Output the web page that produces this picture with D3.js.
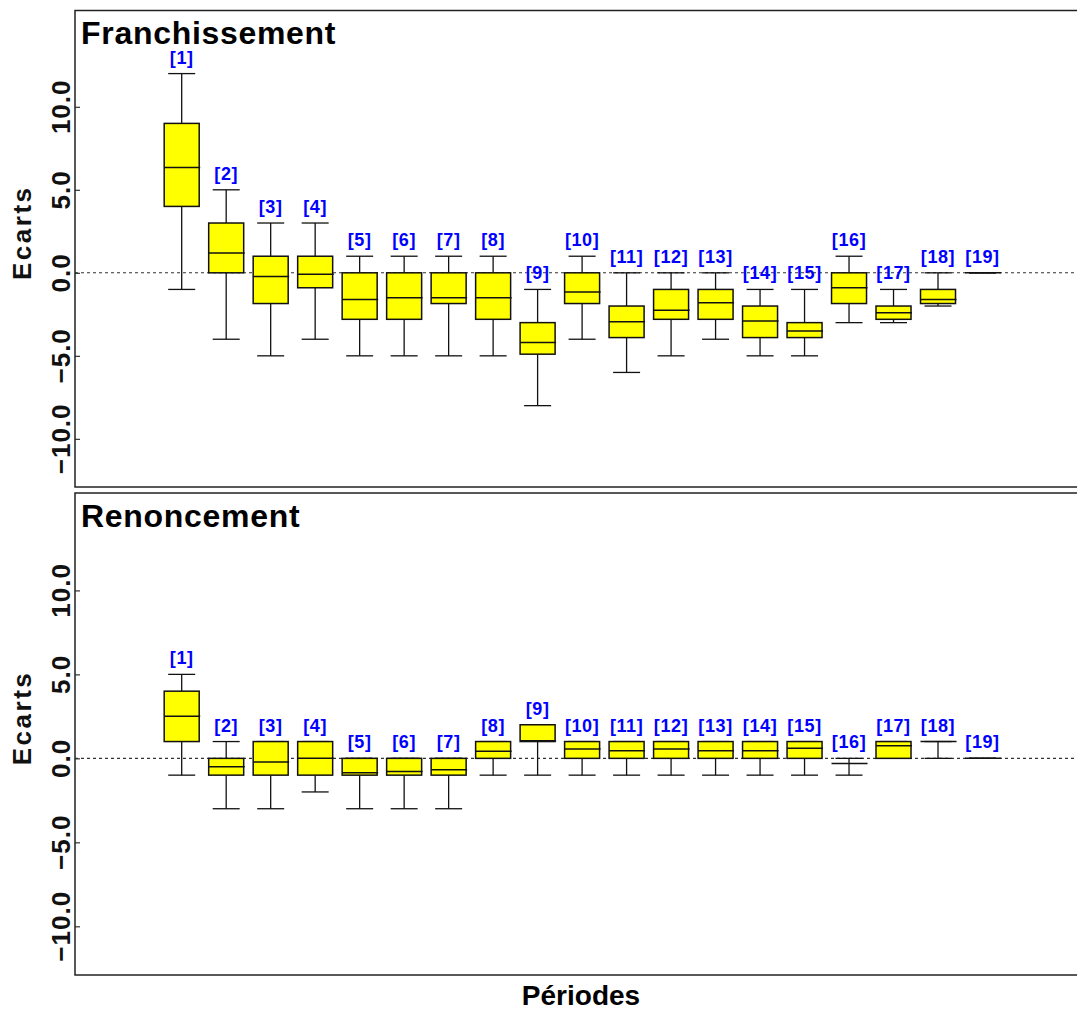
<!DOCTYPE html>
<html>
<head>
<meta charset="utf-8">
<script src="https://cdn.jsdelivr.net/npm/d3@7"></script>
<style>
  html, body { margin: 0; padding: 0; background: #ffffff; }
  svg { display: block; font-family: "Liberation Sans", Arial, Helvetica, sans-serif; }
</style>
</head>
<body>
<svg id="chart" width="1077" height="1010"></svg>
<script>
// ---------- Data ----------
const categories = ["[1]","[2]","[3]","[4]","[5]","[6]","[7]","[8]","[9]","[10]",
                    "[11]","[12]","[13]","[14]","[15]","[16]","[17]","[18]","[19]"];

// Franchissement
const frLow  = [-1, -4, -5, -4, -5, -5, -5, -5, -8, -4, -6, -5, -4, -5, -5, -3, -3, -2, 0];
const frQ1   = [4, 0, -1.85, -0.9, -2.8, -2.8, -1.85, -2.8, -4.9, -1.85, -3.9, -2.8, -2.8, -3.9, -3.9, -1.85, -2.8, -1.85, 0];
const frMed  = [6.35, 1.2, -0.22, -0.08, -1.6, -1.5, -1.5, -1.5, -4.2, -1.15, -2.95, -2.25, -1.8, -2.9, -3.5, -0.9, -2.4, -1.6, 0];
const frQ3   = [9, 3, 1, 1, 0, 0, 0, 0, -3, 0, -2, -1, -1, -2, -3, 0, -2, -1, 0];
const frHigh = [12, 5, 3, 3, 1, 1, 1, 1, -1, 1, 0, 0, 0, -1, -1, 1, -1, 0, 0];

// Renoncement
const reLow  = [-1, -3, -3, -2, -3, -3, -3, -1, -1, -1, -1, -1, -1, -1, -1, -1, 0, 0, 0];
const reQ1   = [1, -1, -1, -1, -1, -1, -1, 0, 1, 0, 0, 0, 0, 0, 0, -0.3, 0, 1, 0];
const reMed  = [2.5, -0.5, -0.22, 0, -0.85, -0.78, -0.68, 0.42, 1.05, 0.55, 0.45, 0.55, 0.45, 0.45, 0.6, -0.3, 0.75, 1, 0];
const reQ3   = [4, 0, 1, 1, 0, 0, 0, 1, 2, 1, 1, 1, 1, 1, 1, -0.3, 1, 1, 0];
const reHigh = [5, 1, 1, 1, 0, 0, 0, 1, 2, 1, 1, 1, 1, 1, 1, 0, 1, 1, 0];

const yTicks = [-10, -5, 0, 5, 10];
const panelTitles = ["Franchissement", "Renoncement"];
const yTitle = "Ecarts";
const xTitle = "Périodes";

// ---------- Layout ----------
const svg = d3.select("#chart");
const frameLeft = 75, frameRight = 1087;
const yDomain = [-12.9, 15.8];

const x = d3.scaleLinear().domain([1, 19]).range([181.7, 982.5]);

const panels = [
  { title: panelTitles[0], top: 10.5, bottom: 487, low: frLow, q1: frQ1, med: frMed, q3: frQ3, high: frHigh, titleY: 43.5 },
  { title: panelTitles[1], top: 493, bottom: 975, low: reLow, q1: reQ1, med: reMed, q3: reQ3, high: reHigh, titleY: 527 }
];

const boxW = 35, capW = 27;

panels.forEach(p => {
  const y = d3.scaleLinear().domain(yDomain).range([p.bottom, p.top]);
  const g = svg.append("g");

  const data = categories.map((c, i) => ({
    cat: c, i: i + 1, low: p.low[i], q1: p.q1[i], med: p.med[i], q3: p.q3[i], high: p.high[i]
  }));

  // zero reference line
  g.append("line")
    .attr("x1", frameLeft).attr("x2", frameRight)
    .attr("y1", y(0)).attr("y2", y(0))
    .attr("stroke", "#333").attr("stroke-width", 1.1)
    .attr("stroke-dasharray", "3,3");

  // y axis ticks (inward)
  const axis = d3.axisRight(y).tickValues(yTicks).tickSize(5).tickFormat("");
  const ax = g.append("g").attr("transform", `translate(${frameLeft},0)`).call(axis);
  ax.select(".domain").remove();
  ax.selectAll(".tick line").attr("stroke", "#333").attr("stroke-width", 1.2);

  // tick labels, rotated
  g.selectAll("text.ytl").data(yTicks).enter().append("text")
    .attr("class", "ytl")
    .attr("transform", d => `translate(69.5,${y(d)}) rotate(-90)`)
    .attr("text-anchor", "middle")
    .attr("font-size", 26).attr("font-weight", "bold").attr("fill", "#111")
    .attr("letter-spacing", 1)
    .text(d => d3.format(".1f")(d));

  // y title
  g.append("text")
    .attr("transform", `translate(30.5,${(p.top + p.bottom) / 2 - 16}) rotate(-90)`)
    .attr("text-anchor", "middle")
    .attr("font-size", 26).attr("font-weight", "bold").attr("fill", "#111")
    .attr("letter-spacing", 2.5)
    .text(yTitle);

  const bx = g.selectAll("g.box").data(data).enter().append("g").attr("class", "box");

  // whiskers
  bx.append("line")
    .attr("x1", d => x(d.i)).attr("x2", d => x(d.i))
    .attr("y1", d => y(d.q3)).attr("y2", d => y(d.high))
    .attr("stroke", "#111").attr("stroke-width", 1.3);
  bx.append("line")
    .attr("x1", d => x(d.i)).attr("x2", d => x(d.i))
    .attr("y1", d => y(d.q1)).attr("y2", d => y(d.low))
    .attr("stroke", "#111").attr("stroke-width", 1.3);
  // caps
  bx.append("line")
    .attr("x1", d => x(d.i) - capW / 2).attr("x2", d => x(d.i) + capW / 2)
    .attr("y1", d => y(d.high)).attr("y2", d => y(d.high))
    .attr("stroke", "#111").attr("stroke-width", 1.3);
  bx.append("line")
    .attr("x1", d => x(d.i) - capW / 2).attr("x2", d => x(d.i) + capW / 2)
    .attr("y1", d => y(d.low)).attr("y2", d => y(d.low))
    .attr("stroke", "#111").attr("stroke-width", 1.3);
  // box
  bx.append("rect")
    .attr("x", d => x(d.i) - boxW / 2).attr("width", boxW)
    .attr("y", d => y(d.q3)).attr("height", d => Math.max(0, y(d.q1) - y(d.q3)))
    .attr("fill", "#ffff00").attr("stroke", "#111").attr("stroke-width", 1.5);
  // median
  bx.append("line")
    .attr("x1", d => x(d.i) - boxW / 2).attr("x2", d => x(d.i) + boxW / 2 + 1)
    .attr("y1", d => y(d.med)).attr("y2", d => y(d.med))
    .attr("stroke", "#111").attr("stroke-width", 1.5);
  // labels
  bx.append("text")
    .attr("x", d => x(d.i)).attr("y", d => y(d.high) - 10)
    .attr("text-anchor", "middle")
    .attr("font-size", 18).attr("font-weight", "bold").attr("fill", "#0000ff")
    .attr("letter-spacing", 0.6)
    .text(d => d.cat);

  // frame
  g.append("rect")
    .attr("x", frameLeft).attr("y", p.top)
    .attr("width", frameRight - frameLeft).attr("height", p.bottom - p.top)
    .attr("fill", "none").attr("stroke", "#222").attr("stroke-width", 1.5);

  // panel title
  g.append("text")
    .attr("x", 81).attr("y", p.titleY)
    .attr("font-size", 32).attr("font-weight", "bold").attr("fill", "#000")
    .attr("letter-spacing", 0.7)
    .text(p.title);
});

// x title
svg.append("text")
  .attr("x", 581).attr("y", 1004.5)
  .attr("text-anchor", "middle")
  .attr("font-size", 28).attr("font-weight", "bold").attr("fill", "#000")
  .text(xTitle);
</script>
</body>
</html>
